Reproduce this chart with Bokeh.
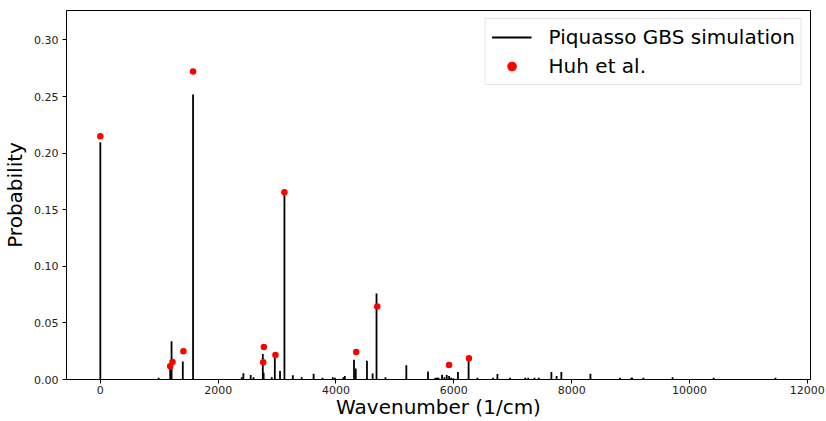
from bokeh.plotting import figure
from bokeh.models import (Range1d, FixedTicker, NumeralTickFormatter, ColumnDataSource,
                          Legend, LegendItem)
from bokeh.embed import file_html
from bokeh.resources import INLINE

# Piquasso GBS simulation (stick spectrum)
sim_wavenumber = [0, 990, 1186, 1200, 1209, 1400, 1574, 2400, 2428, 2552, 2600, 2758, 2772,
                  2910, 2962, 3050, 3125, 3268, 3418, 3620, 3772, 3945, 3982, 4126, 4150,
                  4306, 4335, 4526, 4622, 4688, 4840, 5194, 5562, 5677, 5700, 5722, 5740,
                  5800, 5840, 5880, 5920, 5955, 5992, 6070, 6251, 6400, 6665, 6740, 6954,
                  7213, 7263, 7369, 7442, 7656, 7745, 7825, 8319, 8820, 9013, 9027, 9218,
                  9713, 10410, 11460]
sim_probability = [0.2095, 0.0015, 0.0117, 0.008, 0.0337, 0.0158, 0.2518, 0.002, 0.0056, 0.004,
                   0.002, 0.0226, 0.006, 0.002, 0.0195, 0.0075, 0.1655, 0.0038, 0.002, 0.005,
                   0.0015, 0.002, 0.0015, 0.002, 0.003, 0.0174, 0.0097, 0.0165, 0.0053, 0.076,
                   0.002, 0.0125, 0.007, 0.001, 0.0015, 0.0015, 0.0015, 0.0042, 0.002, 0.004,
                   0.003, 0.0015, 0.001, 0.0066, 0.0183, 0.0015, 0.0015, 0.0048, 0.0015,
                   0.0015, 0.0015, 0.0015, 0.0015, 0.0067, 0.003, 0.0067, 0.005, 0.0015,
                   0.0015, 0.0015, 0.0015, 0.002, 0.0015, 0.0015]

# Huh et al. reference points
huh_wavenumber = [0, 1186, 1225, 1410, 1574, 2764, 2776, 2972, 3125, 4344, 4700, 5919, 6256]
huh_probability = [0.215, 0.0117, 0.0155, 0.0249, 0.272, 0.0153, 0.0288, 0.0217, 0.1655,
                   0.0244, 0.0646, 0.0127, 0.0188]

x_ticks = [0, 2000, 4000, 6000, 8000, 10000, 12000]
y_ticks = [0.0, 0.05, 0.10, 0.15, 0.20, 0.25, 0.30]
x_label = "Wavenumber (1/cm)"
y_label = "Probability"
legend_labels = ["Piquasso GBS simulation", "Huh et al."]

FONT = "DejaVu Sans"
X_MIN, X_MAX = -574, 12054
Y_MIN, Y_MAX = 0.0, 0.326

p = figure(width=826, height=421, output_backend="svg", toolbar_location=None,
           x_range=Range1d(X_MIN, X_MAX), y_range=Range1d(Y_MIN, Y_MAX),
           min_border_top=10, min_border_right=16, min_border_left=64, min_border_bottom=41)

p.background_fill_color = "white"
p.border_fill_color = "white"
p.outline_line_color = "black"
p.outline_line_width = 1
p.xgrid.visible = False
p.ygrid.visible = False

sim_src = ColumnDataSource(dict(x=sim_wavenumber, y=sim_probability,
                                y0=[0] * len(sim_wavenumber)))
r_sim = p.segment(x0="x", y0="y0", x1="x", y1="y", source=sim_src, line_color="black",
                  line_width=1.8)

huh_src = ColumnDataSource(dict(x=huh_wavenumber, y=huh_probability))
r_huh = p.scatter(x="x", y="y", source=huh_src, size=6.5, fill_color="red", line_color=None)

for ax in (p.xaxis[0], p.yaxis[0]):
    ax.axis_line_color = "black"
    ax.major_tick_line_color = "black"
    ax.major_tick_out = 4
    ax.major_tick_in = 0
    ax.minor_tick_line_color = None
    ax.major_label_text_font = FONT
    ax.major_label_text_font_size = "11px"
    ax.major_label_text_color = "#222222"
    ax.axis_label_text_font = FONT
    ax.axis_label_text_font_size = "20px"
    ax.axis_label_text_font_style = "normal"
    ax.axis_label_text_color = "black"

p.xaxis.ticker = FixedTicker(ticks=x_ticks)
p.yaxis.ticker = FixedTicker(ticks=y_ticks)
p.yaxis.formatter = NumeralTickFormatter(format="0.00")
p.xaxis.axis_label = x_label
p.yaxis.axis_label = y_label
p.xaxis.major_label_standoff = 2
p.xaxis.axis_label_standoff = -2
p.yaxis.major_label_standoff = 4
p.yaxis.axis_label_standoff = 4

lg = Legend(items=[LegendItem(label=legend_labels[0], renderers=[r_sim]),
                   LegendItem(label=legend_labels[1], renderers=[r_huh])])
lg.location = "top_right"
lg.margin = 8
lg.padding = 6
lg.spacing = 5
lg.label_height = 24
lg.glyph_height = 24
lg.label_text_font = FONT
lg.label_text_font_size = "20px"
lg.label_text_color = "black"
lg.glyph_width = 40
lg.label_standoff = 17
lg.border_line_color = "#cccccc"
lg.border_line_width = 1
lg.background_fill_color = "white"
lg.background_fill_alpha = 0.8
p.add_layout(lg)

open("out.html", "w").write(file_html(p, INLINE))
